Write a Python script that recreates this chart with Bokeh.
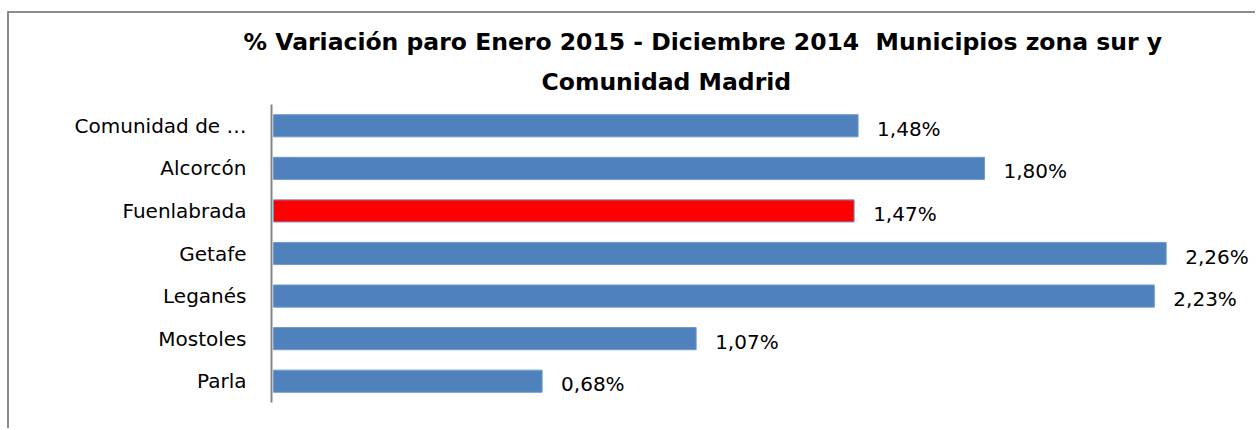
from bokeh.plotting import figure
from bokeh.models import ColumnDataSource, FactorRange, Range1d, Title
from bokeh.embed import file_html
from bokeh.resources import INLINE
from bokeh.core.properties import value
import numpy as np

categories = ["Comunidad de …", "Alcorcón", "Fuenlabrada", "Getafe", "Leganés", "Mostoles", "Parla"]
values = [1.48, 1.80, 1.47, 2.26, 2.23, 1.07, 0.68]
value_labels = ["1,48%", "1,80%", "1,47%", "2,26%", "2,23%", "1,07%", "0,68%"]
bar_colors = ["#4F81BD", "#4F81BD", "#FF0000", "#4F81BD", "#4F81BD", "#4F81BD", "#4F81BD"]
title_lines = ["% Variación paro Enero 2015 - Diciembre 2014\u00a0 Municipios zona sur y", "Comunidad Madrid"]

FONT = "DejaVu Sans"

label_x = np.minimum(np.array(values), 2.28)
src = ColumnDataSource(dict(cat=categories, val=values, lab=value_labels, col=bar_colors, lx=label_x))

p = figure(width=1248, height=417,
           y_range=FactorRange(factors=list(reversed(categories))),
           x_range=Range1d(-0.00506, 2.4912),
           output_backend="svg", toolbar_location=None,
           min_border_left=262, min_border_top=91, min_border_bottom=28, min_border_right=0,
           styles={"margin-left": "7px", "margin-top": "11px",
                   "border-top": "2px solid #8c8c8c", "border-left": "2px solid #8c8c8c"})

p.hbar(y="cat", right="val", left=0, height=0.52, color="col", line_color="#6f9ad0", line_width=1, source=src)
p.text(x="lx", y="cat", text="lab", source=src, x_offset=19, y_offset=3,
       text_align="left", text_baseline="middle",
       text_font=value(FONT), text_font_size="20px", text_color="#000000")

p.xaxis.visible = False
p.grid.visible = False
p.outline_line_color = None
p.yaxis.axis_line_color = "#868686"
p.yaxis.axis_line_width = 2
p.yaxis.major_tick_line_color = None
p.yaxis.minor_tick_line_color = None
p.yaxis.major_tick_out = 0
p.yaxis.major_tick_in = 0
p.yaxis.major_label_standoff = 25
p.yaxis.major_label_text_font = FONT
p.yaxis.major_label_text_font_size = "20px"
p.yaxis.major_label_text_color = "#000000"

p.title = None
p.add_layout(Title(text=title_lines[1], align="left", offset=270, standoff=18, text_font=FONT,
                   text_font_size="23.5px", text_font_style="bold", text_color="#000000"), "above")
p.add_layout(Title(text=title_lines[0], align="left", offset=-28, standoff=1, text_font=FONT,
                   text_font_size="23.5px", text_font_style="bold", text_color="#000000"), "above")

open("out.html", "w").write(file_html(p, INLINE))
